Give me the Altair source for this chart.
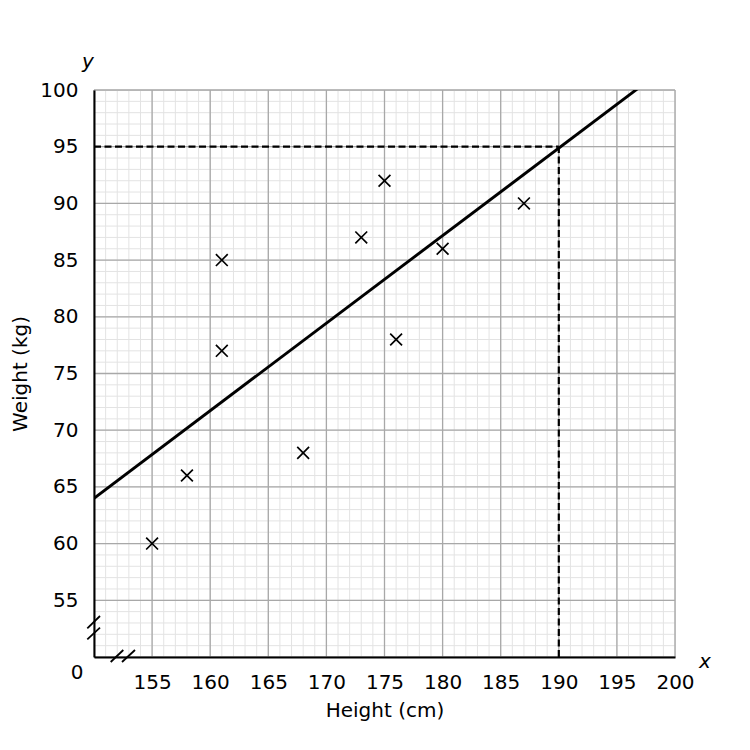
import altair as alt
import pandas as pd

# data
heights = [155, 158, 161, 161, 168, 173, 175, 176, 180, 187]
weights = [60, 66, 85, 77, 68, 87, 92, 78, 86, 90]

line_x = [150, 200]
line_y = [64.0, 102.6]

read_x = 190
read_y = 95

x_ticks = [155, 160, 165, 170, 175, 180, 185, 190, 195, 200]
y_ticks = [55, 60, 65, 70, 75, 80, 85, 90, 95, 100]
minor_x = list(range(150, 201))
minor_y = list(range(50, 101))
major_x = list(range(150, 201, 5))
major_y = list(range(50, 101, 5))

FONT = "DejaVu Sans"
W, H = 581, 567

xs = alt.Scale(domain=[150, 200], nice=False, zero=False)
ys = alt.Scale(domain=[50, 100], nice=False, zero=False)

pts = pd.DataFrame({"x": heights, "y": weights})
ln = pd.DataFrame({"x": line_x, "y": line_y})

axes = alt.Chart(pd.DataFrame({"x": [150], "y": [50]})).mark_point(opacity=0).encode(
    x=alt.X("x:Q", scale=xs, title="Height (cm)",
            axis=alt.Axis(values=x_ticks, grid=False, ticks=False, tickSize=0, domainColor="black",
                          domainWidth=2, labelFont=FONT, labelFontSize=20, labelColor="black",
                          labelPadding=15, titleFont=FONT, titleFontSize=20, titleFontWeight="normal",
                          titleColor="black", titlePadding=8, labelFlush=False, zindex=1)),
    y=alt.Y("y:Q", scale=ys, title="Weight (kg)",
            axis=alt.Axis(values=y_ticks, grid=False, ticks=False, tickSize=0, domainColor="black",
                          domainWidth=2, labelFont=FONT, labelFontSize=20, labelColor="black",
                          labelPadding=16, titleFont=FONT, titleFontSize=20, titleFontWeight="normal",
                          titleColor="black", titlePadding=9, labelFlush=False, zindex=1)))

minor_v = alt.Chart(pd.DataFrame({"x": minor_x})).mark_rule(color="#e3e3e3", strokeWidth=1).encode(
    x=alt.X("x:Q", scale=xs))
minor_h = alt.Chart(pd.DataFrame({"y": minor_y})).mark_rule(color="#e3e3e3", strokeWidth=1).encode(
    y=alt.Y("y:Q", scale=ys))
major_v = alt.Chart(pd.DataFrame({"x": major_x})).mark_rule(color="#a8a8a8", strokeWidth=1.3).encode(
    x=alt.X("x:Q", scale=xs))
major_h = alt.Chart(pd.DataFrame({"y": major_y})).mark_rule(color="#a8a8a8", strokeWidth=1.3).encode(
    y=alt.Y("y:Q", scale=ys))

dash_h = alt.Chart(pd.DataFrame({"x": [150], "x2": [read_x], "y": [read_y]})).mark_rule(
    color="black", strokeWidth=2.2, strokeDash=[7, 3.5]).encode(
    x=alt.X("x:Q", scale=xs), x2="x2:Q", y=alt.Y("y:Q", scale=ys))
dash_v = alt.Chart(pd.DataFrame({"x": [read_x], "y": [50], "y2": [read_y]})).mark_rule(
    color="black", strokeWidth=2.2, strokeDash=[7, 3.5]).encode(
    x=alt.X("x:Q", scale=xs), y=alt.Y("y:Q", scale=ys), y2="y2:Q")

fit = alt.Chart(ln).mark_line(color="black", strokeWidth=2.9, clip=True).encode(
    x=alt.X("x:Q", scale=xs), y=alt.Y("y:Q", scale=ys))

scatter = alt.Chart(pts).mark_point(
    shape="M-1,-1L1,1M-1,1L1,-1", size=140, color="black", strokeWidth=1.7, filled=False, opacity=1
).encode(x=alt.X("x:Q", scale=xs), y=alt.Y("y:Q", scale=ys))

# axis break marks (decorations, pixel positions inside plot area)
breaks = alt.Chart(pd.DataFrame({"a": [0, 1, 2, 3]})).transform_calculate(
    x1="[-6.7, -6.7, 16.7, 28][datum.a]",
    x2="[6, 6, 29.3, 41][datum.a]",
    y1="[538.3, 549.3, 572, 572][datum.a]",
    y2="[526, 537.7, 560, 560][datum.a]",
).mark_rule(color="black", strokeWidth=1.8, clip=False).encode(
    x=alt.X("x1:Q", scale=None), x2="x2:Q", y=alt.Y("y1:Q", scale=None), y2="y2:Q")

zero_lbl = alt.Chart(pd.DataFrame({"t": ["0"], "px": [-17], "py": [583]})).mark_text(
    font=FONT, fontSize=20, color="black").encode(
    x=alt.X("px:Q", scale=None), y=alt.Y("py:Q", scale=None), text="t:N")

axis_names = alt.Chart(pd.DataFrame({"t": ["y", "x"], "px": [-6, 611], "py": [-28, 572]})).mark_text(
    font=FONT, fontSize=20, color="black", fontStyle="italic").encode(
    x=alt.X("px:Q", scale=None), y=alt.Y("py:Q", scale=None), text="t:N")

chart = alt.layer(axes, minor_v, minor_h, major_v, major_h, dash_h, dash_v, fit, scatter, breaks,
                  zero_lbl, axis_names).properties(
    width=W, height=H,
    autosize=alt.AutoSizeParams(type="none"),
    padding={"left": 86, "top": 82, "right": 45, "bottom": 70},
).configure_view(stroke=None).configure(background="white")

chart.save("out.html", embed_options={"renderer": "svg", "actions": False})
